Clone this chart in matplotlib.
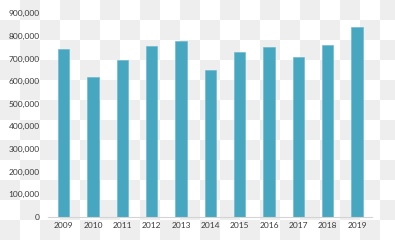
import numpy as np
import matplotlib
matplotlib.use("Agg")
import matplotlib.pyplot as plt
from matplotlib.ticker import FuncFormatter

years = ["2009", "2010", "2011", "2012", "2013", "2014",
         "2015", "2016", "2017", "2018", "2019"]
values = [740000, 617000, 693000, 755000, 777000, 649000,
          727000, 750000, 705000, 758000, 839000]
y_ticks = [0, 100000, 200000, 300000, 400000, 500000,
           600000, 700000, 800000, 900000]

bar_color = "#47a7c0"
text_color = "#3a3a3a"

plt.rcParams["font.family"] = ["Lato", "DejaVu Sans"]

fig = plt.figure(figsize=(3.95, 2.4), dpi=100)

# transparent-style checkerboard behind the chart
bg = fig.add_axes([0, 0, 1, 1], zorder=0)
rows, cols = 12, 20
board = np.ones((rows, cols, 3))
for j in range(rows):
    for i in range(cols):
        if (i + j) % 2 == 1:
            board[j, i] = 0.937
bg.imshow(board, extent=(0, 400, 240, 0), interpolation="nearest", aspect="auto")
bg.set_xlim(0, 395)
bg.set_ylim(240, 0)
bg.axis("off")

ax = fig.add_axes([0.1215, 0.097, 0.8203, 0.8475], zorder=1)
ax.set_facecolor("none")

x = np.arange(len(years))
ax.bar(x, values, width=0.39, color=bar_color, edgecolor="#62b6cc", linewidth=0.4)

ax.set_xlim(-0.53, len(years) - 0.49)
ax.set_ylim(0, 900000)
ax.set_xticks(x)
ax.set_xticklabels(years)
ax.set_yticks(y_ticks)
ax.yaxis.set_major_formatter(FuncFormatter(lambda v, p: f"{int(v):,}"))

for side in ["top", "right", "left"]:
    ax.spines[side].set_visible(False)
ax.spines["bottom"].set_color("#d4d4d4")
ax.spines["bottom"].set_linewidth(0.8)

ax.tick_params(axis="both", length=0, labelsize=6, labelcolor=text_color)
ax.tick_params(axis="y", pad=6)
ax.tick_params(axis="x", pad=4)

fig.savefig("out.png", dpi=100)
